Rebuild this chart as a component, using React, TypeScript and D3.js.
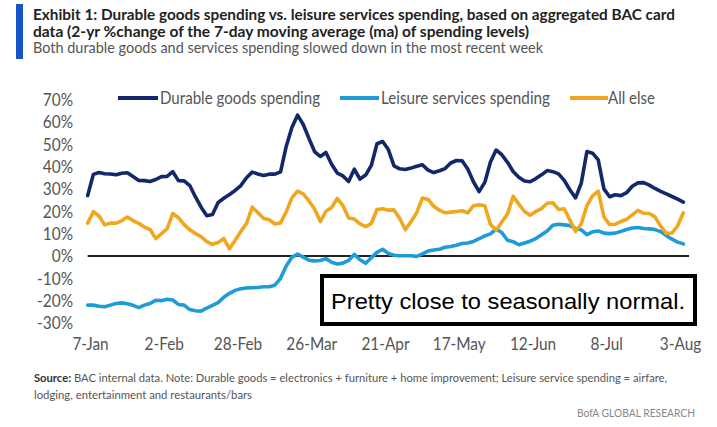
import React from "react";
import * as d3 from "d3";

const startDate = new Date(Date.UTC(2021, 0, 6));
const endDate = new Date(Date.UTC(2021, 7, 6));
const dates = d3.utcDay.range(startDate, endDate, 2);

const durable = [
  27, 36.5, 37.3, 36.8, 36.7, 36.3, 37, 37.2, 35.5, 33.8,
  33.7, 33.3, 34.2, 35.5, 35.6, 37.7, 33.7, 33.6, 31.5, 26.4,
  21.8, 18, 18.5, 23.9, 25.8, 27.5, 29.3, 31.5, 35, 37.5,
  36.7, 36, 36.6, 36.6, 37.6, 49, 57.5, 63, 58.8, 52.6,
  46.7, 44.5, 46.3, 41, 37.1, 35.8, 33.3, 38.8, 34.4, 36.2,
  40.5, 50.2, 51.2, 47.6, 40.3, 39, 38.7, 39.3, 40.1, 40.8,
  38.4, 37.3, 38.1, 39.1, 41.6, 42.7, 42.6, 38.9, 33.2, 28.8,
  32.9, 42, 47.4, 45.3, 41.9, 37.8, 35.2, 33.5, 33.2, 34.6,
  36.3, 38.2, 37.7, 36.7, 33.8, 29.6, 26, 32.5, 46.7, 46,
  43, 30, 26.5, 27.4, 27, 28.3, 31.2, 32.7, 32.8, 31.7,
  30.2, 28.9, 27.8, 26.6, 25.4, 24.1,
];

const leisure = [
  -22, -22, -22.5, -22.7, -22, -21.3, -21, -21.4, -22.1, -23.1,
  -22, -21.3, -19.8, -20, -19.4, -19.7, -21.7, -22, -24, -24.5,
  -24.7, -23.3, -22.1, -20.9, -18.5, -16.7, -15.4, -14.7, -14.3, -14.2,
  -14.1, -13.8, -13.8, -13.1, -10, -4.5, -0.6, 0.8, -0.5, -1.9,
  -2.2, -2, -1.2, -2.8, -3.6, -3.2, -2, 0.7, -1.7, -3.3,
  -0.8, 1.6, 3, 1.1, 0.3, 0.1, 0.1, 0.1, -0.2, 0.9,
  2.2, 2.7, 3, 3.9, 4.2, 4.8, 5.6, 5.8, 6.5, 7.7,
  9, 9.9, 12, 10.5, 7, 6.4, 5, 5.8, 6.6, 7.8,
  9.5, 11.2, 13.7, 14.2, 13.9, 13.6, 12.2, 11.7, 9.5, 10.8,
  11.2, 10.2, 10, 10.2, 11, 11.8, 12.5, 12.7, 12.3, 12.1,
  11.8, 10.9, 9.1, 7.5, 6.2, 5.4,
];

const allElse = [
  14.7, 19.8, 17.9, 13.9, 14.7, 14.7, 15.7, 17.4, 15.8, 14.6,
  12.9, 11.8, 7.8, 10, 12.1, 19, 17.1, 14, 11.7, 10,
  8.6, 6.4, 5.2, 6, 7.8, 3.2, 7, 11, 14.5, 21.8,
  19.4, 16.9, 16.2, 14.3, 14.8, 19.8, 26, 29, 27.8, 24.6,
  21, 15.4, 20, 21.7, 25.7, 22.5, 17, 16.5, 14.4, 13.1,
  14.5, 20.8, 21.1, 20.5, 20.6, 16.8, 11.7, 15.3, 19.4, 25.9,
  25.3, 22.2, 20.5, 19.3, 19.6, 19.9, 20.2, 19.3, 22.5, 22.9,
  22.5, 14.2, 11.5, 15.2, 18.7, 26.7, 23.2, 19.9, 18.2, 19.9,
  21.2, 23.6, 23.8, 20.8, 21.1, 16.1, 11, 14.3, 22.5, 26.9,
  29, 17.5, 14, 14.2, 15.4, 16.4, 18.4, 20.4, 19.1, 19,
  17.5, 13.3, 10.1, 10.3, 13.5, 19.3,
];

const yTicks = [70, 60, 50, 40, 30, 20, 10, 0, -10, -20, -30];
const xTickDates = [
  new Date(Date.UTC(2021, 0, 7)),
  new Date(Date.UTC(2021, 1, 2)),
  new Date(Date.UTC(2021, 1, 28)),
  new Date(Date.UTC(2021, 2, 26)),
  new Date(Date.UTC(2021, 3, 21)),
  new Date(Date.UTC(2021, 4, 17)),
  new Date(Date.UTC(2021, 5, 12)),
  new Date(Date.UTC(2021, 6, 8)),
  new Date(Date.UTC(2021, 7, 3)),
];
const xTickLabels = ["7-Jan", "2-Feb", "28-Feb", "26-Mar", "21-Apr", "17-May", "12-Jun", "8-Jul", "3-Aug"];

const seriesNames = ["Durable goods spending", "Leisure services spending", "All else"];
const colors = ["#13286b", "#1f9bd7", "#efa720"];

const FONT = "Lato, 'Open Sans', sans-serif";

function CText(props: {
  x: number;
  y: number;
  sx?: number;
  children: React.ReactNode;
  [k: string]: any;
}) {
  const { x, y, sx = 0.88, children, ...rest } = props;
  return (
    <g transform={`translate(${x},${y}) scale(${sx},1)`}>
      <text x={0} y={0} fontFamily={FONT} {...rest}>
        {children}
      </text>
    </g>
  );
}

export default function App() {
  const x = d3
    .scaleUtc()
    .domain([xTickDates[0], xTickDates[xTickDates.length - 1]])
    .range([90.5, 680.5]);
  const y = d3.scaleLinear().domain([70, -30]).range([99.5, 323]);

  const line = (vals: number[]) =>
    d3
      .line<number>()
      .x((_, i) => x(dates[i]))
      .y((v) => y(v))(vals) || "";

  const legendItems = [
    { x1: 118, x2: 158, tx: 160, w: 160 },
    { x1: 340, x2: 379, tx: 381, w: 169 },
    { x1: 570, x2: 608, tx: 608, w: 47 },
  ];

  return (
    <svg
      width={717}
      height={427}
      style={{ position: "absolute", left: 0, top: 0, background: "#fff" }}
    >
      <rect x={0} y={0} width={717} height={427} fill="#fff" />
      {/* header */}
      <rect x={16} y={4} width={7} height={55} fill="#1456c8" />
      <text x={33} y={20} fontFamily={FONT} fontWeight="bold" fontSize={15} fill="#222"
        textLength={642} lengthAdjust="spacingAndGlyphs">
        Exhibit 1: Durable goods spending vs. leisure services spending, based on aggregated BAC card
      </text>
      <text x={33} y={36.5} fontFamily={FONT} fontWeight="bold" fontSize={15} fill="#222"
        textLength={496} lengthAdjust="spacingAndGlyphs">
        data (2-yr %change of the 7-day moving average (ma) of spending levels)
      </text>
      <text x={33} y={53} fontFamily={FONT} fontSize={15} fill="#555"
        textLength={510} lengthAdjust="spacingAndGlyphs">
        Both durable goods and services spending slowed down in the most recent week
      </text>

      {/* y ticks */}
      {yTicks.map((t) => (
        <CText key={t} x={73} y={y(t)} dy="0.36em" textAnchor="end" fontSize={17.5} fill="#555">
          {`${t}%`}
        </CText>
      ))}

      {/* x ticks */}
      {xTickDates.map((d, i) => (
        <CText key={i} x={x(d)} y={350} textAnchor="middle" fontSize={17.5} fill="#555">
          {xTickLabels[i]}
        </CText>
      ))}

      {/* zero line */}
      <line x1={x(startDate)} x2={x(endDate)} y1={y(0)} y2={y(0)} stroke="#222" strokeWidth={2} />

      {/* series */}
      {[leisure, durable, allElse].map((vals, j) => {
        const ci = [1, 0, 2][j];
        return (
          <path key={j} d={line(vals)} fill="none" stroke={colors[ci]} strokeWidth={3.6}
            strokeLinejoin="round" strokeLinecap="round" />
        );
      })}

      {/* legend */}
      {legendItems.map((it, i) => (
        <g key={i}>
          <line x1={it.x1} x2={it.x2} y1={98} y2={98} stroke={colors[i]} strokeWidth={4} />
          <text x={it.tx} y={98} dy="0.36em" fontFamily={FONT} fontSize={17.5} fill="#555"
            textLength={it.w} lengthAdjust="spacingAndGlyphs">
            {seriesNames[i]}
          </text>
        </g>
      ))}

      {/* annotation box */}
      <rect x={322} y={276} width={373} height={48} fill="#fff" stroke="#000" strokeWidth={4} />
      <text x={508} y={309} textAnchor="middle" fontFamily="'Liberation Sans', Arial, sans-serif"
        fontSize={22.5} fill="#000" textLength={354} lengthAdjust="spacingAndGlyphs">
        Pretty close to seasonally normal.
      </text>

      {/* footer */}
      <text x={34} y={382} fontFamily={FONT} fontSize={11.5} fill="#555"
        textLength={633} lengthAdjust="spacingAndGlyphs">
        <tspan fontWeight="bold" fill="#333">Source:</tspan>
        <tspan>{"  BAC internal data. Note: Durable goods = electronics + furniture + home improvement; Leisure service spending = airfare,"}</tspan>
      </text>
      <text x={34} y={399} fontFamily={FONT} fontSize={11.5} fill="#555"
        textLength={218} lengthAdjust="spacingAndGlyphs">
        lodging, entertainment and restaurants/bars
      </text>
      <text x={695} y={417} textAnchor="end" fontFamily={FONT} fontSize={11.5} fill="#888"
        textLength={118} lengthAdjust="spacingAndGlyphs">
        BofA GLOBAL RESEARCH
      </text>
    </svg>
  );
}
